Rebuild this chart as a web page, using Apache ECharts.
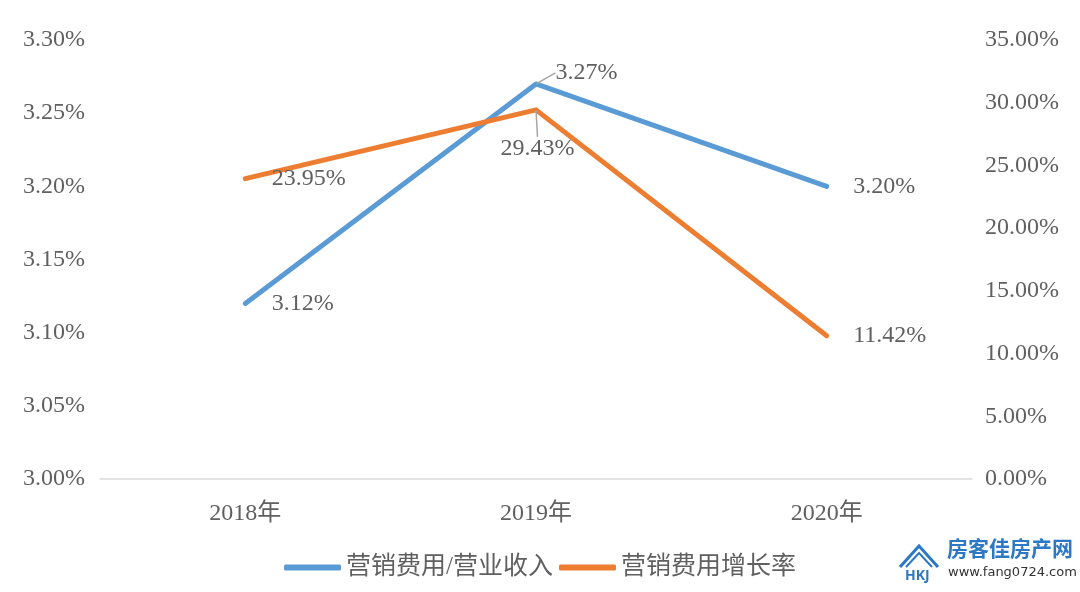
<!DOCTYPE html>
<html>
<head>
<meta charset="utf-8">
<script src="https://cdn.jsdelivr.net/npm/echarts@6/dist/echarts.min.js"></script>
<style>html,body{margin:0;padding:0;background:#fff}#c{width:1080px;height:592px}</style>
</head>
<body>
<div id="c"></div>
<script>
var categories = ['2018年', '2019年', '2020年'];
var ratioValues = [3.12, 3.27, 3.20];       // 营销费用/营业收入 (%), left axis
var growthValues = [23.95, 29.43, 11.42];   // 营销费用增长率 (%), right axis
var seriesNames = ['营销费用/营业收入', '营销费用增长率'];
var leftTicks = {min: 3.0, max: 3.3, interval: 0.05};
var rightTicks = {min: 0, max: 35, interval: 5};

var FONT = "'Liberation Serif','Noto Sans CJK SC',serif";
var TXT = '#606060';
var LINE_LABEL_INDEX = 1;

function withLeader(values) {
  return values.map(function (v, i) {
    return i === LINE_LABEL_INDEX ? {value: v, labelLine: {show: true}} : {value: v};
  });
}

var chart = echarts.init(document.getElementById('c'));
chart.setOption({
  animation: false,
  backgroundColor: '#fff',
  grid: {left: 100, right: 108, top: 40, bottom: 113, containLabel: false},
  legend: {
    data: seriesNames, bottom: 7, left: 'center', icon: 'roundRect',
    itemWidth: 57, itemHeight: 6, itemGap: 6,
    textStyle: {fontFamily: FONT, fontSize: 25, color: TXT}
  },
  xAxis: {
    type: 'category', data: categories, boundaryGap: true,
    axisLine: {lineStyle: {color: '#d9d9d9', width: 1.5}},
    axisTick: {show: false},
    axisLabel: {fontFamily: FONT, fontSize: 24, color: TXT, margin: 23}
  },
  yAxis: [{
    type: 'value', min: leftTicks.min, max: leftTicks.max, interval: leftTicks.interval,
    axisLine: {show: false}, axisTick: {show: false}, splitLine: {show: false},
    axisLabel: {fontFamily: FONT, fontSize: 24, color: TXT, margin: 15,
      formatter: function (v) { return v.toFixed(2) + '%'; }}
  }, {
    type: 'value', min: rightTicks.min, max: rightTicks.max, interval: rightTicks.interval,
    axisLine: {show: false}, axisTick: {show: false}, splitLine: {show: false},
    axisLabel: {fontFamily: FONT, fontSize: 24, color: TXT, margin: 13,
      formatter: function (v) { return v.toFixed(2) + '%'; }}
  }],
  series: [{
    name: seriesNames[0], type: 'line', yAxisIndex: 0, data: withLeader(ratioValues),
    symbol: 'circle', symbolSize: 1, showSymbol: true,
    itemStyle: {color: '#5B9BD5'},
    lineStyle: {width: 5, color: '#5B9BD5', cap: 'round', join: 'round'},
    label: {show: true, position: 'right', distance: 26, fontFamily: FONT, fontSize: 24, color: TXT,
      formatter: function (p) { return p.value.toFixed(2) + '%'; }},
    labelLine: {show: false, lineStyle: {color: '#a6a6a6', width: 1.5}},
    labelLayout: function (p) { if (p.dataIndex === 1) return {dx: -7, dy: -11}; return {}; },
    z: 2
  }, {
    name: seriesNames[1], type: 'line', yAxisIndex: 1, data: withLeader(growthValues),
    symbol: 'circle', symbolSize: 1, showSymbol: true,
    itemStyle: {color: '#ED7D31'},
    lineStyle: {width: 5, color: '#ED7D31', cap: 'round', join: 'round'},
    label: {show: true, position: 'right', distance: 26, fontFamily: FONT, fontSize: 24, color: TXT,
      formatter: function (p) { return p.value.toFixed(2) + '%'; }},
    labelLine: {show: false, lineStyle: {color: '#a6a6a6', width: 1.5}},
    labelLayout: function (p) { if (p.dataIndex === 1) return {dx: -62, dy: 39}; return {}; },
    z: 3
  }],
  graphic: [
    {type: 'polyline', shape: {points: [[900,567],[919,546],[938,567]]}, style: {stroke: '#2b78c5', lineWidth: 3, fill: null}},
    {type: 'polyline', shape: {points: [[906,567],[919,553],[932,567]]}, style: {stroke: '#2b78c5', lineWidth: 2, fill: null}},
    {type: 'text', left: 905, top: 569, style: {text: 'HKJ', fill: '#2b78c5', font: 'bold 14px "Noto Sans"'}},
    {type: 'text', left: 947, top: 538, style: {text: '房客佳房产网', fill: '#2b78c5', font: 'bold 21px "Noto Sans CJK SC"'}},
    {type: 'text', left: 948, top: 566, style: {text: 'www.fang0724.com', fill: '#333', font: '13px "DejaVu Sans"'}}
  ]
});
</script>
</body>
</html>
